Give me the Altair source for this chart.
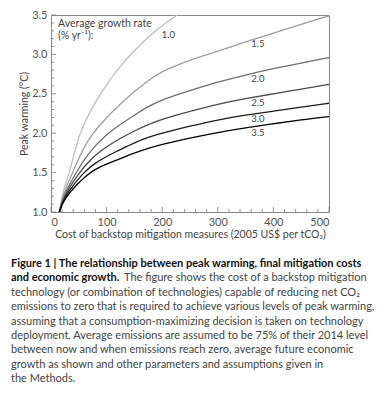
import altair as alt
import pandas as pd

# ---------------- data ----------------
growth_rates = ["1.0", "1.5", "2.0", "2.5", "3.0", "3.5"]

cost_r10 = [15, 20, 25, 34, 42, 52, 65, 80, 100, 125, 150, 175, 200, 227]
warm_r10 = [1.0, 1.2, 1.34, 1.52, 1.75, 2.0, 2.2, 2.4, 2.62, 2.86, 3.05, 3.22, 3.37, 3.5]

cost_r15 = [15, 20, 27, 39, 50, 60, 75, 100, 120, 150, 175, 200, 250, 300, 350, 400, 450, 500]
warm_r15 = [1.0, 1.17, 1.31, 1.5, 1.68, 1.83, 2.0, 2.2, 2.34, 2.53, 2.67, 2.79, 2.93, 3.04, 3.16, 3.27, 3.38, 3.49]

cost_r20 = [15, 20, 28, 45, 60, 80, 103, 120, 150, 175, 200, 250, 300, 350, 400, 450, 500]
warm_r20 = [1.0, 1.14, 1.28, 1.5, 1.67, 1.85, 2.0, 2.09, 2.23, 2.34, 2.43, 2.54, 2.65, 2.74, 2.82, 2.89, 2.96]

cost_r25 = [15, 20, 30, 51, 70, 90, 115, 150, 175, 200, 250, 300, 350, 400, 450, 500]
warm_r25 = [1.0, 1.12, 1.28, 1.5, 1.66, 1.78, 1.9, 2.03, 2.11, 2.18, 2.28, 2.37, 2.44, 2.5, 2.56, 2.62]

cost_r30 = [15, 20, 30, 58, 80, 115, 150, 175, 200, 250, 300, 350, 400, 450, 500]
warm_r30 = [1.0, 1.11, 1.25, 1.5, 1.63, 1.76, 1.88, 1.95, 2.0, 2.09, 2.17, 2.23, 2.28, 2.33, 2.38]

cost_r35 = [15, 20, 30, 68, 90, 115, 150, 175, 200, 250, 300, 350, 400, 450, 500]
warm_r35 = [1.0, 1.1, 1.23, 1.5, 1.58, 1.65, 1.75, 1.81, 1.86, 1.94, 2.01, 2.07, 2.12, 2.17, 2.21]

line_colors = ["#b9c0c4", "#9a9ea1", "#6f6f6f", "#4a4a4a", "#1c1c1c", "#000000"]

# curve labels (text, cost, warming)
label_text = ["1.0", "1.5", "2.0", "2.5", "3.0", "3.5"]
label_cost = [211, 372, 372, 372, 372, 372]
label_warm = [3.21, 3.09, 2.646, 2.345, 2.138, 1.968]

# axis ticks
x_major = [0, 100, 200, 300, 400, 500]
x_minor = [20, 40, 60, 80, 120, 140, 160, 180, 220, 240, 260, 280,
           320, 340, 360, 380, 420, 440, 460, 480]
y_major = [1.0, 1.5, 2.0, 2.5, 3.0, 3.5]
y_minor = [1.1, 1.2, 1.3, 1.4, 1.6, 1.7, 1.8, 1.9, 2.1, 2.2, 2.3, 2.4,
           2.6, 2.7, 2.8, 2.9, 3.1, 3.2, 3.3, 3.4]

legend_lines = ["Average growth rate", "(% yr\u207b\u00b9):"]
caption_bold = ["Figure 1 | The relationship between peak warming, final mitigation costs",
                "and economic growth."]
caption_line2 = "The figure shows the cost of a backstop mitigation"
caption_rest = [
    "technology (or combination of technologies) capable of reducing net CO\u2082",
    "emissions to zero that is required to achieve various levels of peak warming,",
    "assuming that a consumption-maximizing decision is taken on technology",
    "deployment. Average emissions are assumed to be 75% of their 2014 level",
    "between now and when emissions reach zero, average future economic",
    "growth as shown and other parameters and assumptions given in",
    "the Methods.",
]

# ---------------- build tables ----------------
series = [
    (growth_rates[0], cost_r10, warm_r10),
    (growth_rates[1], cost_r15, warm_r15),
    (growth_rates[2], cost_r20, warm_r20),
    (growth_rates[3], cost_r25, warm_r25),
    (growth_rates[4], cost_r30, warm_r30),
    (growth_rates[5], cost_r35, warm_r35),
]
rows = []
for rate, cs, ws in series:
    for c, w in zip(cs, ws):
        rows.append({"rate": rate, "cost": c, "warming": w})
df = pd.DataFrame(rows)

FONT = "Lato"
xscale = alt.Scale(domain=[0, 500], nice=False, zero=False)
yscale = alt.Scale(domain=[1.0, 3.5], nice=False, zero=False)
x_axis = alt.Axis(values=x_major, format="d", labelPadding=4,
                  title="Cost of backstop mitigation measures (2005 US$ per tCO\u2082)",
                  titlePadding=2)
y_axis = alt.Axis(values=y_major, format=".1f", labelPadding=4,
                  title="Peak warming (\u00b0C)", titlePadding=2)

lines = alt.Chart(df).mark_line(strokeWidth=1.3, interpolate="basis").encode(
    x=alt.X("cost:Q", scale=xscale, axis=x_axis),
    y=alt.Y("warming:Q", scale=yscale, axis=y_axis),
    color=alt.Color("rate:N", scale=alt.Scale(domain=growth_rates, range=line_colors), legend=None),
    detail="rate:N",
)

labels = alt.Chart(pd.DataFrame({"t": label_text, "c": label_cost, "w": label_warm})).mark_text(
    font=FONT, fontSize=9.5, color="#444", align="center", baseline="alphabetic"
).encode(
    x=alt.X("c:Q", scale=xscale, axis=x_axis),
    y=alt.Y("w:Q", scale=yscale, axis=y_axis),
    text="t:N",
)

tick_col = "#777"
ymaj = alt.Chart(pd.DataFrame({"v": y_major})).mark_rule(color=tick_col, strokeWidth=0.8).encode(
    y=alt.Y("v:Q", scale=yscale, axis=y_axis), x=alt.value(0), x2=alt.value(5))
ymin = alt.Chart(pd.DataFrame({"v": y_minor})).mark_rule(color=tick_col, strokeWidth=0.8).encode(
    y=alt.Y("v:Q", scale=yscale, axis=y_axis), x=alt.value(0), x2=alt.value(3))
xmaj = alt.Chart(pd.DataFrame({"v": x_major})).mark_rule(color=tick_col, strokeWidth=0.8).encode(
    x=alt.X("v:Q", scale=xscale, axis=x_axis), y=alt.value(197), y2=alt.value(192))
xmin = alt.Chart(pd.DataFrame({"v": x_minor})).mark_rule(color=tick_col, strokeWidth=0.8).encode(
    x=alt.X("v:Q", scale=xscale, axis=x_axis), y=alt.value(197), y2=alt.value(194))

one = pd.DataFrame({"k": [0]})
legend_txt = alt.Chart(one).mark_text(
    text=legend_lines, font=FONT, fontSize=10.5, color="#444", align="left",
    baseline="alphabetic", lineHeight=11.5
).encode(x=alt.value(7), y=alt.value(12))

cap_bold = alt.Chart(one).mark_text(
    text=caption_bold, font=FONT, fontSize=11, fontWeight="bold", color="#111",
    align="left", baseline="alphabetic", lineHeight=14.4
).encode(x=alt.value(-40), y=alt.value(252))

cap_l2 = alt.Chart(one).mark_text(
    text=caption_line2, font=FONT, fontSize=11, color="#444",
    align="left", baseline="alphabetic"
).encode(x=alt.value(73), y=alt.value(266.4))

cap_rest = alt.Chart(one).mark_text(
    text=caption_rest, font=FONT, fontSize=11, color="#444",
    align="left", baseline="alphabetic", lineHeight=14.4
).encode(x=alt.value(-40), y=alt.value(280.8))

chart = alt.layer(
    lines, ymin, ymaj, xmin, xmaj, labels, legend_txt, cap_bold, cap_l2, cap_rest
).properties(
    width=278, height=197,
    padding={"left": 51, "top": 15, "right": 48, "bottom": 188},
    autosize=alt.AutoSizeParams(type="none"),
    background="white",
).configure_view(
    stroke="#8a8a8a", strokeWidth=1
).configure_axis(
    domain=False, ticks=False, grid=False,
    labelFont=FONT, labelFontSize=11, labelColor="#555",
    titleFont=FONT, titleFontSize=10.5, titleColor="#444", titleFontWeight="normal",
)

chart.save("out.html", embed_options={"renderer": "svg", "actions": False})
